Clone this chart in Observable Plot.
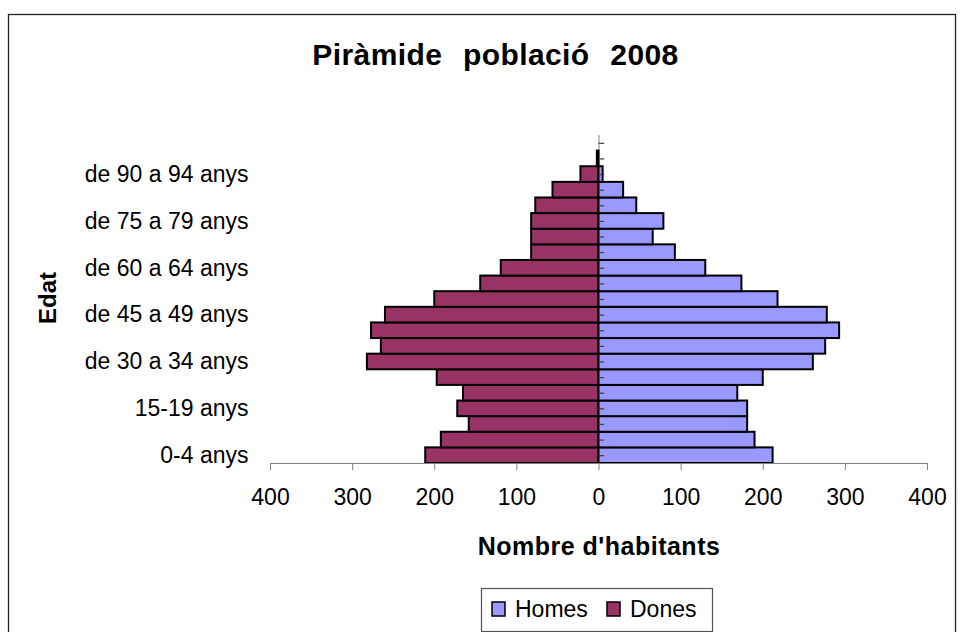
<!DOCTYPE html>
<html>
<head>
<meta charset="utf-8">
<script src="https://cdn.jsdelivr.net/npm/d3@7"></script>
<script src="https://cdn.jsdelivr.net/npm/@observablehq/plot@0.6"></script>
<style>
  html, body { margin: 0; padding: 0; background: white; }
  svg text { font-family: "Liberation Sans", Arial, sans-serif; }
</style>
</head>
<body>
<div id="chart"></div>
<script>
const ageGroups = ["0-4 anys","5-9 anys","10-14 anys","15-19 anys","20-24 anys","25-29 anys",
  "de 30 a 34 anys","de 35 a 39 anys","de 40 a 44 anys","de 45 a 49 anys","de 50 a 54 anys",
  "de 55 a 59 anys","de 60 a 64 anys","de 65 a 69 anys","de 70 a 74 anys","de 75 a 79 anys",
  "de 80 a 84 anys","de 85 a 89 anys","de 90 a 94 anys","de 95 a 99 anys","100 anys i més"];
const homes = [212,190,181,181,169,200,261,276,293,278,218,174,130,93,66,79,46,30,5,0,0];
const dones = [211,192,158,172,165,197,282,265,277,260,200,144,119,82,82,82,77,56,22,2,0];
const xTicks = [-400,-300,-200,-100,0,100,200,300,400];
const shownAgeLabels = ageGroups.filter((d, i) => i % 3 === 0);
const seriesNames = ["Homes", "Dones"];
const seriesColors = ["#9999FF", "#993366"];
const titleText = "Piràmide població 2008";
const xTitle = "Nombre d'habitants";
const yTitle = "Edat";

const rows = [];
ageGroups.forEach((age, i) => {
  rows.push({age, sex: "Dones", value: dones[i]});
  rows.push({age, sex: "Homes", value: homes[i]});
});
const barRows = rows.filter(d => {
  const i = ageGroups.indexOf(d.age);
  return !(homes[i] === 0 && dones[i] === 0);
});

const W = 968, H = 632;
const plot = Plot.plot({
  width: W,
  height: H,
  marginLeft: 270,
  marginRight: 41,
  marginTop: 135,
  marginBottom: 169,
  style: {fontFamily: "Liberation Sans, Arial, sans-serif", fontSize: "23px", color: "black", background: "white"},
  x: {domain: [-400, 400], axis: null},
  y: {domain: ageGroups.slice().reverse(), padding: 0, round: false, axis: null},
  color: {domain: seriesNames, range: seriesColors},
  marks: [
    Plot.ruleX([0], {stroke: "#808080", strokeWidth: 1}),
    Plot.barX(barRows, {
      y: "age",
      x1: d => d.sex === "Homes" ? 0 : -d.value,
      x2: d => d.sex === "Homes" ? d.value : 0,
      fill: "sex",
      stroke: "black",
      strokeWidth: 2
    }),
    Plot.ruleY(ageGroups, {y: d => d, x1: 0, x2: 7, stroke: "#404040", strokeWidth: 1.2}),
    Plot.axisX({ticks: xTicks, tickFormat: d => Math.abs(d), tickSize: 7, tickPadding: 18,
      stroke: "#808080", label: null, fontSize: 23}),
    Plot.axisY({ticks: shownAgeLabels, anchor: "left", tickSize: 0, tickPadding: 22,
      label: null, fontSize: 23})
  ]
});

document.getElementById("chart").appendChild(plot);

const svg = d3.select(plot);
const xs = plot.scale("x");
const ys = plot.scale("y");
const yBottom = Math.max(...ys.range);

// bottom value axis line
svg.append("line")
  .attr("x1", xs.range[0]).attr("x2", xs.range[1])
  .attr("y1", yBottom + 0.5).attr("y2", yBottom + 0.5)
  .attr("stroke", "#808080").attr("stroke-width", 1.2);

// outer chart border
svg.append("rect")
  .attr("x", 8.5).attr("y", 14.5).attr("width", 947).attr("height", 640)
  .attr("fill", "none").attr("stroke", "#222").attr("stroke-width", 1.3);

// title
svg.append("text")
  .attr("x", 495.5).attr("y", 65)
  .attr("text-anchor", "middle")
  .attr("font-size", 30).attr("font-weight", "bold")
  .attr("letter-spacing", "0.4px").attr("word-spacing", "12px")
  .attr("fill", "black")
  .text(titleText);

// axis titles
svg.append("text")
  .attr("transform", "translate(56,298) rotate(-90)")
  .attr("text-anchor", "middle")
  .attr("font-size", 24).attr("font-weight", "bold")
  .attr("fill", "black")
  .text(yTitle);

svg.append("text")
  .attr("x", 599).attr("y", 555)
  .attr("text-anchor", "middle")
  .attr("font-size", 25).attr("font-weight", "bold")
  .attr("letter-spacing", "0.5px")
  .attr("fill", "black")
  .text(xTitle);

// legend
const lg = svg.append("g").attr("text-anchor", "start");
lg.append("rect")
  .attr("x", 481.5).attr("y", 588.5).attr("width", 231).attr("height", 43)
  .attr("fill", "white").attr("stroke", "#555").attr("stroke-width", 1.2);
const legendItems = [
  {name: seriesNames[0], color: seriesColors[0], sx: 492, tx: 515},
  {name: seriesNames[1], color: seriesColors[1], sx: 607, tx: 630}
];
legendItems.forEach(it => {
  lg.append("rect")
    .attr("x", it.sx).attr("y", 602).attr("width", 13).attr("height", 14)
    .attr("fill", it.color).attr("stroke", "black").attr("stroke-width", 1.5);
  lg.append("text")
    .attr("x", it.tx).attr("y", 616.5)
    .attr("text-anchor", "start")
    .attr("font-size", 23).attr("fill", "black")
    .text(it.name);
});
</script>
</body>
</html>
